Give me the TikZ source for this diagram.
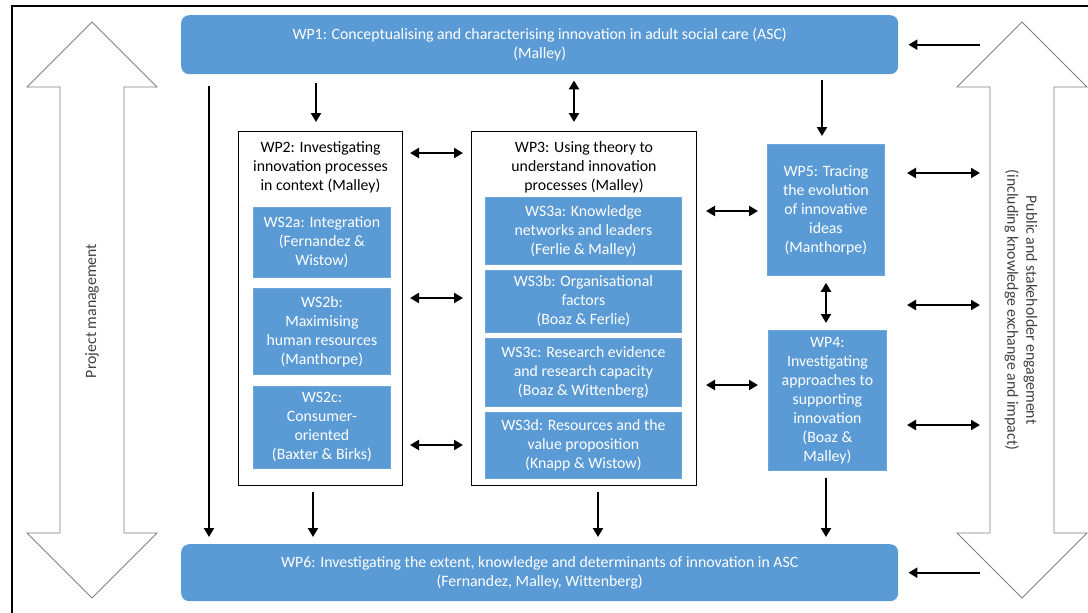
\documentclass[tikz,border=0pt]{standalone}
\usepackage{fontspec}
\setmainfont{Carlito}
\usepackage{tikz}
\usetikzlibrary{arrows.meta}

\definecolor{wpblue}{HTML}{5B9BD5}
\definecolor{wpline}{HTML}{6FA6DA}
\definecolor{labelgrey}{HTML}{404040}

\tikzset{
	txt/.style={font=\fontsize{15.8}{19}\selectfont, align=center, inner sep=0pt},
	wpbar/.style={txt, fill=wpblue, text=white, rounded corners=8pt, anchor=north west},
	wsbox/.style={txt, fill=wpblue, draw=wpline, line width=0.8pt, text=white, anchor=north west},
	wpframe/.style={draw=black, line width=1pt, fill=white, anchor=north west, inner sep=0pt},
	arr/.style={-{Triangle[length=9pt,width=10pt]}, line width=2.4pt},
	dbl/.style={{Triangle[length=9pt,width=10pt]}-{Triangle[length=9pt,width=10pt]}, line width=2.4pt},
	bigarrow/.style={draw=gray, fill=white, line width=0.9pt},
}

\begin{document}
\begin{tikzpicture}[x=1pt,y=-1pt]
	\useasboundingbox (0,0) rectangle (1088,613);
	% outer frame
	\draw[line width=1.5pt] (1088,6) -- (12,6) -- (12,613);
	
	% big double arrows at both sides
	\foreach \c in {92,1022}
		\draw[bigarrow] (\c,22) -- (\c+65,87) -- (\c+32,87) -- (\c+32,533) -- (\c+65,533) -- (\c,598) -- (\c-65,533) -- (\c-32,533) -- (\c-32,87) -- (\c-65,87) -- cycle;
	\node[txt, rotate=90, text=labelgrey] (pmlabel) at (92,311) {Project management};
	\node[txt, rotate=-90, text=labelgrey] (pelabel) at (1021,310) {Public and stakeholder engagement\\(including knowledge exchange and impact)};
	\coordinate (pe) at (980,0);
	\coordinate (pw) at (907,0);
	
	% top and bottom work packages
	\node[wpbar, minimum width=717pt, minimum height=59pt] (wp1) at (181,15) {WP1: Conceptualising and characterising innovation in adult social care (ASC)\\(Malley)};
	\node[wpbar, minimum width=717pt, minimum height=57pt] (wp6) at (181,544) {WP6: Investigating the extent, knowledge and determinants of innovation in ASC\\(Fernandez, Malley, Wittenberg)};
	
	% WP2 and its workstreams
	\node[wpframe, minimum width=164pt, minimum height=354pt] (wp2) at (238,131) {};
	\node[txt, anchor=north] (wp2title) at ([yshift=-10pt]wp2.north) {WP2: Investigating\\innovation processes\\in context (Malley)};
	\node[wsbox, minimum width=137pt, minimum height=70pt] (ws2a) at (253,207) {WS2a: Integration\\(Fernandez \&\\Wistow)};
	\node[wsbox, minimum width=137pt, minimum height=86pt] (ws2b) at (253,288) {WS2b:\\Maximising\\human resources\\(Manthorpe)};
	\node[wsbox, minimum width=137pt, minimum height=82pt] (ws2c) at (253,386) {WS2c:\\Consumer-\\oriented\\(Baxter \& Birks)};
	
	% WP3 and its workstreams
	\node[wpframe, minimum width=225pt, minimum height=354pt] (wp3) at (471,131) {};
	\node[txt, anchor=north] (wp3title) at ([yshift=-10pt]wp3.north) {WP3: Using theory to\\understand innovation\\processes (Malley)};
	\node[wsbox, minimum width=196pt, minimum height=67pt] (ws3a) at (485,197) {WS3a: Knowledge\\networks and leaders\\(Ferlie \& Malley)};
	\node[wsbox, minimum width=196pt, minimum height=62pt] (ws3b) at (485,270) {WS3b: Organisational\\factors\\(Boaz \& Ferlie)};
	\node[wsbox, minimum width=196pt, minimum height=68pt] (ws3c) at (485,338) {WS3c: Research evidence\\and research capacity\\(Boaz \& Wittenberg)};
	\node[wsbox, minimum width=196pt, minimum height=66pt] (ws3d) at (485,412) {WS3d: Resources and the\\value proposition\\(Knapp \& Wistow)};
	
	% WP5 and WP4
	\node[wsbox, minimum width=117pt, minimum height=131pt] (wp5) at (767,144) {WP5: Tracing\\the evolution\\of innovative\\ideas\\(Manthorpe)};
	\node[wsbox, minimum width=118pt, minimum height=140pt] (wp4) at (768,330) {WP4:\\Investigating\\approaches to\\supporting\\innovation\\(Boaz \&\\Malley)};
	
	% arrows out of WP1
	\draw[arr, shorten <=12pt, shorten >=7pt] (wp1.south -| 209,0) -- (wp6.north -| 209,0);
	\draw[arr, shorten <=9pt, shorten >=9pt] (wp1.south -| 316,0) -- (wp2.north -| 316,0);
	\draw[dbl, shorten <=6pt, shorten >=9pt] (wp1.south -| 574,0) -- (wp3.north -| 574,0);
	\draw[arr, shorten <=6pt, shorten >=8pt] (wp1.south -| 822,0) -- (wp5.north -| 822,0);
	
	% arrows into WP6
	\draw[arr, shorten <=6pt, shorten >=7pt] (wp2.south -| 313,0) -- (wp6.north -| 313,0);
	\draw[arr, shorten <=6pt, shorten >=7pt] (wp3.south -| 598,0) -- (wp6.north -| 598,0);
	\draw[arr, shorten <=7pt, shorten >=7pt] (wp4.south -| 826,0) -- (wp6.north -| 826,0);
	\draw[dbl, shorten <=7pt, shorten >=7pt] (wp5.south -| 826,0) -- (wp4.north -| 826,0);
	
	% links between the work packages
	\foreach \y in {153,298,445}
		\draw[dbl, shorten <=7pt, shorten >=8pt] (wp2.east |- 0,\y) -- (wp3.west |- 0,\y);
	\draw[dbl, shorten <=9pt, shorten >=9pt] (wp3.east |- 0,211) -- (wp5.west |- 0,211);
	\draw[dbl, shorten <=9pt, shorten >=10pt] (wp3.east |- 0,385) -- (wp4.west |- 0,385);
	
	% engagement links
	\foreach \y in {173,305,425}
		\draw[dbl] (pw |- 0,\y) -- (pe |- 0,\y);
	\draw[arr, shorten >=10pt] (pe |- wp1.east) -- (wp1.east);
	\draw[arr, shorten >=10pt] (pe |- wp6.east) -- (wp6.east);
\end{tikzpicture}
\end{document}
